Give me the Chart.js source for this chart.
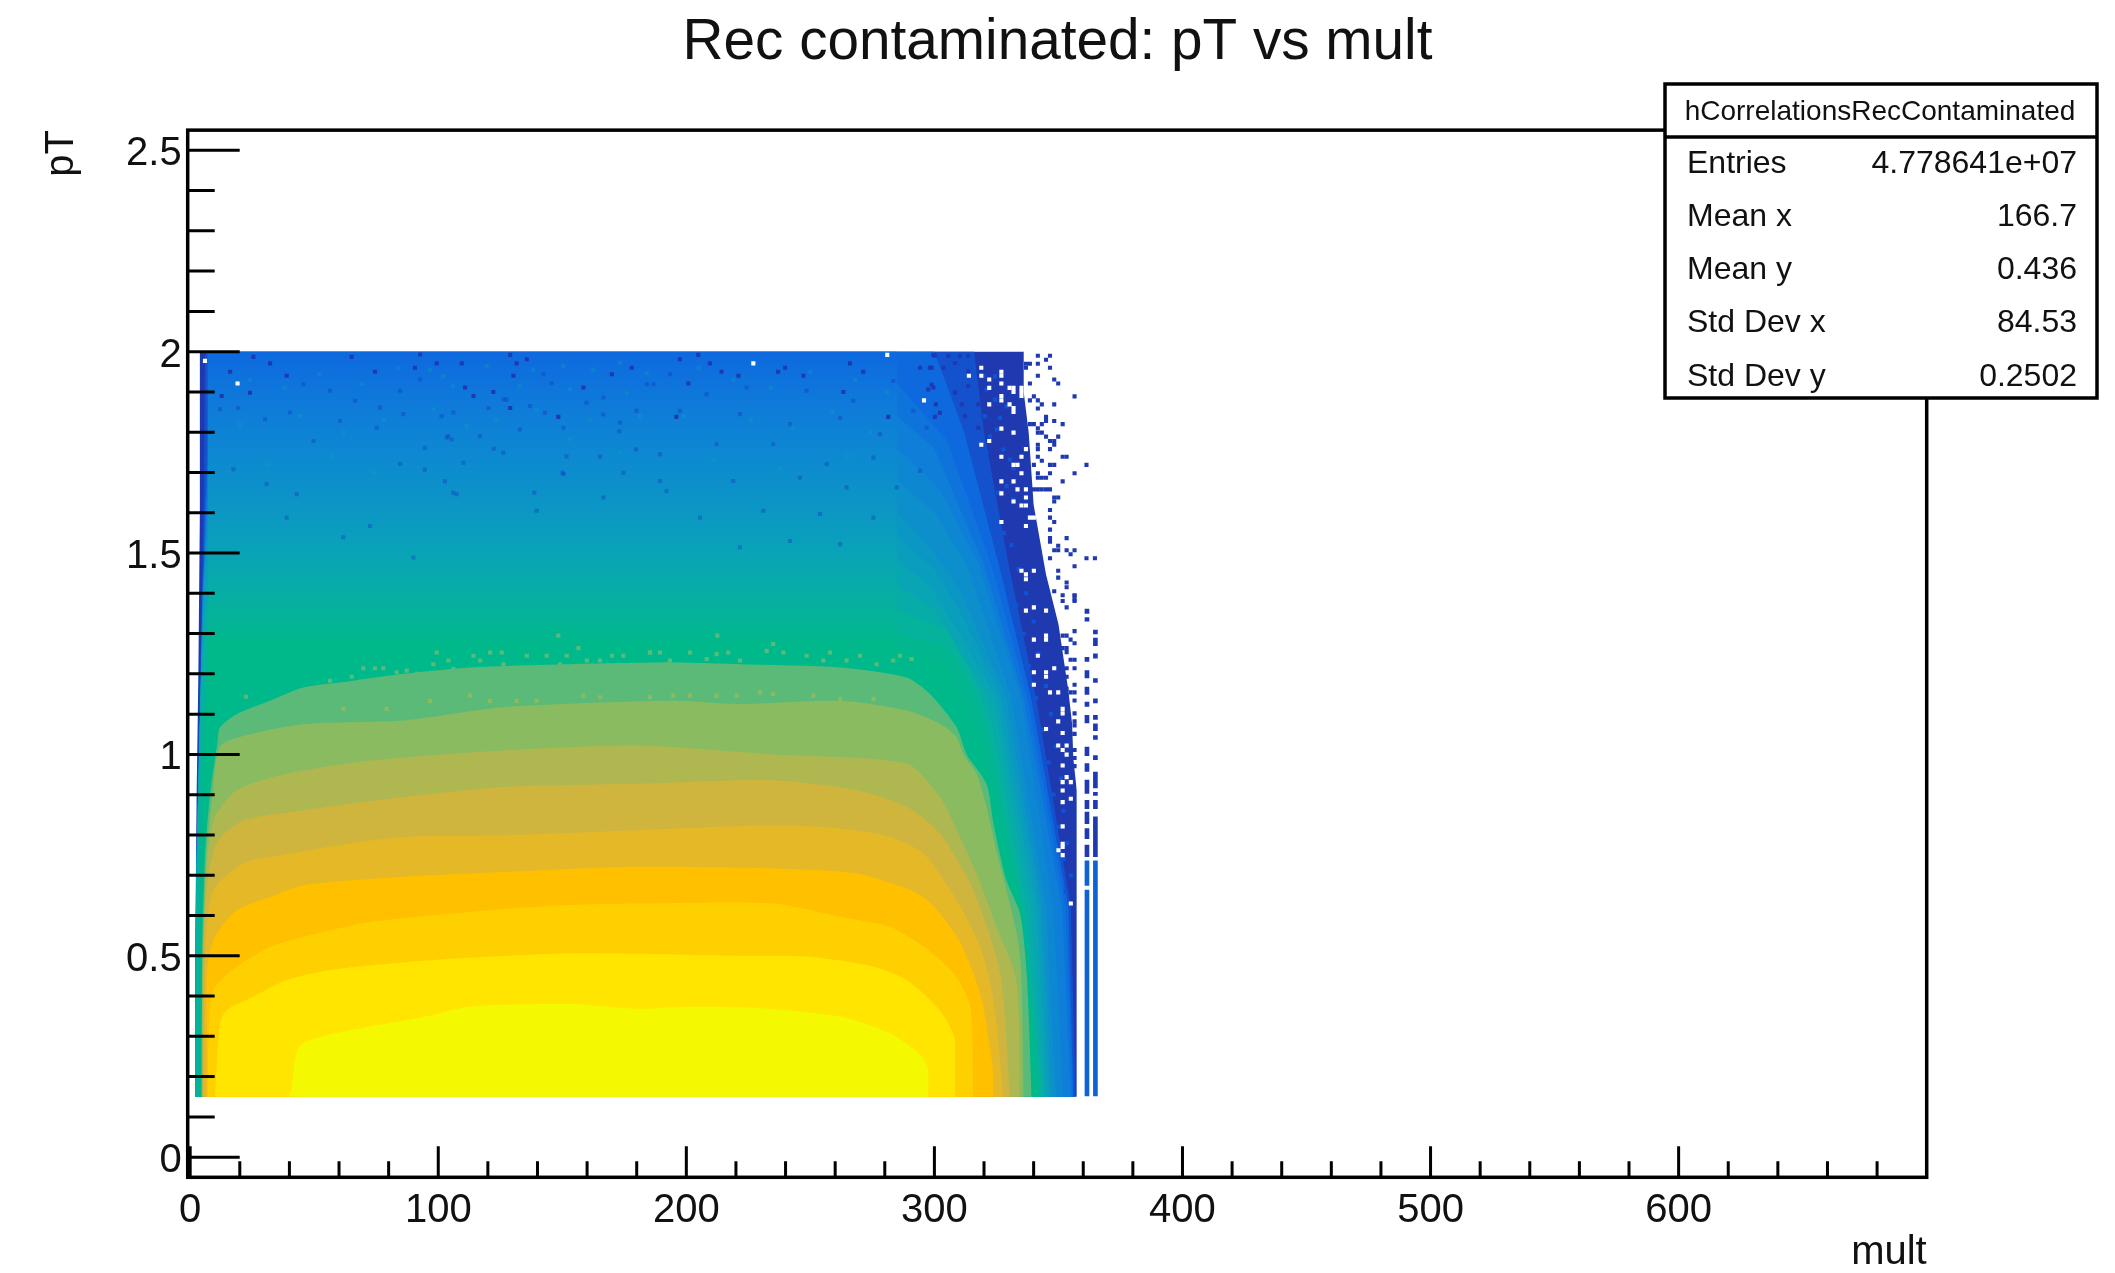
<!DOCTYPE html>
<html>
<head>
<meta charset="utf-8">
<title>Rec contaminated: pT vs mult</title>
<script src="https://cdn.jsdelivr.net/npm/chart.js@4/dist/chart.umd.min.js"></script>
<style>
  html, body { margin: 0; padding: 0; background: #fff; }
  canvas { display: block; }
</style>
</head>
<body>
<canvas id="myChart" width="2115" height="1273"></canvas>
<script>
const xTicks = [0, 20, 40, 60, 80, 100, 120, 140, 160, 180, 200, 220, 240, 260, 280, 300, 320, 340, 360, 380, 400, 420, 440, 460, 480, 500, 520, 540, 560, 580, 600, 620, 640, 660, 680];
const xLabels = ['0', '100', '200', '300', '400', '500', '600'];
const yTicks = [0, 0.1, 0.2, 0.3, 0.4, 0.5, 0.6, 0.7, 0.8, 0.9, 1, 1.1, 1.2, 1.3, 1.4, 1.5, 1.6, 1.7, 1.8, 1.9, 2, 2.1, 2.2, 2.3, 2.4, 2.5];
const yLabels = ['0', '0.5', '1', '1.5', '2', '2.5'];

const statsName = 'hCorrelationsRecContaminated';
const statsLabels = ['Entries', 'Mean x', 'Mean y', 'Std Dev x', 'Std Dev y'];
const statsValues = ['4.778641e+07', '166.7', '0.436', '84.53', '0.2502'];

// contour of each colour level, outermost first
const darkX = [2, 2, 2.6, 3.3, 3.9, 3.9, 336, 336, 338, 340, 345, 350, 354, 355.5, 356, 357.4, 357.4];
const darkY = [0.15, 0.5, 0.9, 1.2, 1.6, 2, 2, 1.9, 1.8, 1.62, 1.447, 1.324, 1.158, 1.076, 0.99, 0.91, 0.15];
const blue0X = [2, 2.2, 3, 4.5, 5.5, 6, 316, 320, 330, 341, 355, 356.9];
const blue0Y = [0.15, 0.55, 0.95, 1.35, 1.65, 2, 2, 1.8, 1.47, 1.14, 0.62, 0.15];
const blue1X = [2, 2.5, 3.5, 5, 7, 7, 300, 312, 326, 339, 354, 356];
const blue1Y = [0.15, 0.6, 1, 1.4, 1.7, 2, 2, 1.8, 1.47, 1.14, 0.62, 0.15];
const blue2X = [2, 3, 4.5, 6, 8, 20, 60, 150, 285, 305, 323, 337.5, 352.8, 355.8];
const blue2Y = [0.15, 0.8, 1.2, 1.6, 1.85, 1.88, 1.91, 1.92, 1.92, 1.78, 1.47, 1.14, 0.62, 0.15];
const blue3X = [2, 3, 4.5, 6, 8, 20, 60, 150, 285, 300, 320, 336, 351.5, 355];
const blue3Y = [0.15, 0.8, 1.2, 1.5, 1.76, 1.8, 1.83, 1.84, 1.84, 1.76, 1.47, 1.14, 0.62, 0.15];
const blue4X = [2, 2.8, 4.2, 5.5, 7.5, 20, 60, 150, 285, 302, 318, 335, 348, 352];
const blue4Y = [0.15, 0.8, 1.15, 1.45, 1.68, 1.72, 1.75, 1.76, 1.76, 1.66, 1.47, 1.14, 0.62, 0.15];
const blue5X = [2, 2.6, 4, 5, 7, 20, 60, 150, 285, 300, 313, 331, 345, 349];
const blue5Y = [0.15, 0.75, 1.1, 1.4, 1.6, 1.64, 1.67, 1.68, 1.68, 1.6, 1.47, 1.14, 0.62, 0.15];
const cyan1X = [2, 2.5, 3.8, 4.8, 6.5, 20, 60, 150, 285, 300, 311, 329, 343.5, 347.5];
const cyan1Y = [0.15, 0.7, 1.05, 1.3, 1.53, 1.56, 1.59, 1.6, 1.6, 1.5, 1.4, 1.14, 0.62, 0.15];
const cyan2X = [2, 2.4, 3.6, 4.6, 6, 20, 60, 150, 285, 300, 310, 327, 342.5, 346.5];
const cyan2Y = [0.15, 0.7, 1, 1.25, 1.47, 1.5, 1.53, 1.54, 1.54, 1.46, 1.36, 1.14, 0.62, 0.15];
const cyan3X = [2, 2.3, 3.4, 4.4, 6, 20, 60, 150, 285, 298, 310, 325, 341, 345.5];
const cyan3Y = [0.15, 0.65, 0.95, 1.2, 1.42, 1.44, 1.47, 1.48, 1.48, 1.42, 1.3, 1.14, 0.62, 0.15];
const cyan4X = [2, 2.2, 3.3, 4.2, 6, 20, 60, 150, 285, 300, 310, 324, 339, 344.5];
const cyan4Y = [0.15, 0.6, 0.9, 1.15, 1.36, 1.38, 1.41, 1.42, 1.42, 1.36, 1.26, 1.12, 0.62, 0.15];
const cyan5X = [2, 2.1, 3.2, 4.2, 6, 20, 60, 150, 285, 305, 315, 323, 337, 343.5];
const cyan5Y = [0.15, 0.55, 0.85, 1.1, 1.3, 1.32, 1.35, 1.36, 1.36, 1.31, 1.2, 1.08, 0.62, 0.15];
const teal1X = [3.8, 3.9, 4.2, 5, 7, 20, 60, 150, 285, 305, 316, 322, 335.5, 342.7];
const teal1Y = [0.15, 0.5, 0.8, 1.05, 1.25, 1.27, 1.29, 1.3, 1.3, 1.27, 1.16, 1.04, 0.62, 0.15];
const teal2X = [4, 4.2, 4.6, 5.5, 8, 20, 60, 150, 285, 305, 318, 335, 341.5];
const teal2Y = [0.15, 0.5, 0.8, 1.05, 1.2, 1.23, 1.26, 1.27, 1.27, 1.22, 1.05, 0.62, 0.15];
const green1X = [4.5, 4.8, 6, 8, 11, 12, 18.7, 32.2, 45.6, 65.8, 85.9, 112.8, 153, 193.5, 221.6, 262, 288.8, 298.2, 309, 313, 321, 323.8, 329, 334.5, 337.2, 339.2];
const green1Y = [0.15, 0.5, 0.75, 0.9, 1.03, 1.067, 1.1, 1.133, 1.166, 1.183, 1.2, 1.216, 1.224, 1.228, 1.224, 1.216, 1.191, 1.15, 1.067, 1, 0.927, 0.828, 0.688, 0.605, 0.457, 0.15];
const green2X = [4.6, 5, 6.5, 9, 12, 21.4, 45.6, 85.9, 126, 193.5, 221.6, 262, 288.8, 302.3, 309, 311.7, 317, 321, 325, 333.2, 335, 336];
const green2Y = [0.15, 0.5, 0.75, 0.9, 1.02, 1.046, 1.075, 1.084, 1.117, 1.133, 1.125, 1.133, 1.109, 1.076, 1.042, 1, 0.952, 0.87, 0.762, 0.556, 0.457, 0.15];
const oliveX = [4.8, 5.2, 7, 10, 18.7, 38.9, 72.5, 126, 180, 235, 288.8, 302.3, 310.3, 317, 325, 333, 334.5];
const oliveY = [0.15, 0.5, 0.75, 0.845, 0.911, 0.952, 0.985, 1.01, 1.022, 1, 0.977, 0.894, 0.795, 0.704, 0.572, 0.44, 0.15];
const tanX = [5, 5.5, 6.6, 10.7, 21.4, 45.6, 85.9, 126, 180, 235, 268.7, 288.8, 302.3, 315.7, 326.5, 330.5];
const tanY = [0.15, 0.5, 0.663, 0.78, 0.836, 0.861, 0.894, 0.919, 0.927, 0.936, 0.911, 0.87, 0.803, 0.663, 0.457, 0.15];
const goldX = [5.5, 6, 9.3, 21.4, 32.2, 59, 85.9, 126, 180, 235, 262, 282, 295.5, 309, 318.4, 323.8, 327.8];
const goldY = [0.15, 0.5, 0.663, 0.729, 0.745, 0.774, 0.795, 0.799, 0.812, 0.824, 0.816, 0.795, 0.754, 0.638, 0.523, 0.39, 0.15];
const amberX = [6.6, 6.6, 10, 18.7, 32.2, 45.6, 85.9, 126.3, 180, 235, 268.7, 295.5, 309, 315.7, 319.7, 323.8, 323.8];
const amberY = [0.15, 0.457, 0.547, 0.613, 0.646, 0.675, 0.696, 0.708, 0.721, 0.717, 0.704, 0.646, 0.547, 0.457, 0.374, 0.209, 0.15];
const orangeX = [7, 7.5, 9.3, 18.7, 32.2, 45.6, 72.5, 112.8, 153, 181, 235, 262, 282, 295.5, 307.6, 314.4, 315.7];
const orangeY = [0.15, 0.3, 0.415, 0.473, 0.522, 0.547, 0.584, 0.609, 0.626, 0.63, 0.63, 0.597, 0.572, 0.523, 0.457, 0.374, 0.15];
const sunX = [10, 12, 14.7, 25.5, 38.9, 56.4, 99.4, 153, 181, 221, 248.5, 275.4, 288.8, 302, 308.3, 308.3];
const sunY = [0.15, 0.33, 0.365, 0.399, 0.44, 0.465, 0.49, 0.506, 0.505, 0.5, 0.498, 0.473, 0.44, 0.366, 0.291, 0.15];
const yellowX = [40, 41, 44, 59, 95, 113, 153, 181, 200, 230, 262, 282, 295, 298, 297.5];
const yellowY = [0.15, 0.176, 0.275, 0.308, 0.349, 0.374, 0.38, 0.368, 0.374, 0.37, 0.349, 0.308, 0.25, 0.209, 0.15];

const outerLevels = [
  [darkX, darkY, '#1f3ab0'], [blue0X, blue0Y, '#1352cc'], [blue1X, blue1Y, '#0e69df'], [blue2X, blue2Y, '#0e74dc'],
  [blue3X, blue3Y, '#0e7ed8'], [blue4X, blue4Y, '#0d87d2'], [blue5X, blue5Y, '#0c8fcb'],
  [cyan1X, cyan1Y, '#0b97c3'], [cyan2X, cyan2Y, '#0a9ebd'], [cyan3X, cyan3Y, '#09a5b4'],
  [cyan4X, cyan4Y, '#07aca8'], [cyan5X, cyan5Y, '#05b29c'], [teal1X, teal1Y, '#02b690'],
  [teal2X, teal2Y, '#00b98a'],
];
const innerLevels = [
  [green1X, green1Y, '#5cba78'], [green2X, green2Y, '#8abb60'],
  [oliveX, oliveY, '#aeb750'], [tanX, tanY, '#cfb53e'], [goldX, goldY, '#e5b828'],
  [amberX, amberY, '#ffc000'], [orangeX, orangeY, '#ffd000'], [sunX, sunY, '#ffe500'],
  [yellowX, yellowY, '#f4f800'],
];

// central part of the blue to green fade, colour against pT
const fadeX = [7, 7, 285, 285];
const fadeY = [0.15, 2, 2, 0.15];
const fadeStops = [1.27, 1.3, 1.36, 1.42, 1.48, 1.54, 1.6, 1.68, 1.76, 1.84, 1.92, 2];
const fadeColors = ['#00b98a', '#02b690', '#05b29c', '#07aca8', '#09a5b4', '#0a9ebd', '#0b97c3', '#0c8fcb', '#0d87d2', '#0e7ed8', '#0e74dc', '#0e69df'];

// isolated bins on the top and right of the filled area
const darkBinX = [25.5, 32.2, 65.1, 92.7, 129, 135.7, 131.6, 99.4, 90.6, 109.5, 178, 170, 158.5, 122.2, 110.8, 114.2, 24.1, 12.7, 16.1, 38.9, 74.5, 130.3, 148.4, 129, 197.4, 204.8, 209.5, 214.2, 221, 237, 239.8, 247.2, 266, 200.8, 263.3, 271.3, 299.6, 298.2, 299.6, 308.3, 196, 281.4, 300.2,
  298.9, 297.5, 308.3, 300.6, 311, 302.2, 294.2, 298.9, 303.6, 308.3, 313.6, 305.6, 300.2, 310.3, 313.6, 313.6, 317.7, 317.7, 312.3, 319.7,
  341.7, 346.6, 345, 341.7, 346.6, 336.9, 338.5, 336.9, 341.7, 348.3, 349.9, 338.5, 356.5, 340.1, 341.7, 338.5, 343.3, 348.3, 341.7, 345, 345, 348.3, 351.7, 338.5, 340.1, 343.3, 341.7, 341.7, 343.3, 345, 349.9, 346.6, 348.3, 341.7, 341.7, 348.3, 346.6, 351.7, 353.3, 341.7, 343.3, 340.1, 346.6, 348.3, 361.3, 356.5, 346.6, 341.7, 341.7, 343.3, 345, 351.7, 340.1, 341.7, 343.3, 345, 346.6, 348.3, 349.9, 348.3, 346.6, 346.6, 348.3, 346.6, 353.3, 346.6, 346.6, 349.9, 349.9, 348.3, 353.3, 354.9, 356.5, 361.3, 364.7, 356.5, 346.6, 349.9, 349.9, 353.3, 353.3, 356.5, 356.5, 351.7, 348.3, 345,
  351.7, 356.5, 356.5, 353.3, 356.5, 351.7, 353.3, 354.9, 356.5, 351.7, 353.3, 353.3, 354.9, 356.5, 353.3, 356.5, 351.7, 353.3, 351.7, 356.5, 353.3, 354.9, 356.5, 356.5, 353.3, 353.3, 353.3, 353.3, 356.5, 356.5, 356.5, 354.9, 356.5, 353.3, 356.5, 354.9, 356.5, 354.9, 356.5];
const darkBinY = [1.987, 1.971, 1.987, 1.993, 1.992, 1.981, 1.971, 1.971, 1.96, 1.971, 1.96, 1.944, 1.911, 1.9, 1.911, 1.89, 1.898, 1.89, 1.95, 1.94, 1.95, 1.94, 1.838, 1.86, 1.981, 1.992, 1.971, 1.95, 1.94, 1.95, 1.96, 1.94, 1.971, 1.921, 1.9, 1.95, 1.911, 1.96, 1.992, 1.898, 1.838, 1.838, 1.838,
  1.918, 1.906, 1.899, 1.869, 1.869, 1.848, 1.96, 1.96, 1.96, 1.972, 1.951, 1.99, 1.99, 1.99, 1.99, 1.914, 1.869, 1.811, 1.84, 1.889,
  1.99, 1.99, 1.98, 1.97, 1.96, 1.97, 1.97, 1.96, 1.94, 1.931, 1.921, 1.921, 1.889, 1.889, 1.879, 1.879, 1.869, 1.869, 1.859, 1.838, 1.828, 1.828, 1.82, 1.82, 1.82, 1.82, 1.81, 1.799, 1.799, 1.789, 1.789, 1.778, 1.778, 1.769, 1.758, 1.769, 1.758, 1.739, 1.739, 1.739, 1.729, 1.719, 1.719, 1.719, 1.719, 1.698, 1.698, 1.698, 1.687, 1.687, 1.687, 1.678, 1.658, 1.658, 1.658, 1.658, 1.658, 1.638, 1.638, 1.628, 1.607, 1.588, 1.577, 1.558, 1.537, 1.537, 1.528, 1.518, 1.507, 1.507, 1.507, 1.497, 1.507, 1.487, 1.487, 1.467, 1.487, 1.456, 1.439, 1.427, 1.415, 1.394, 1.381, 1.381, 1.405, 1.415,
  1.395, 1.395, 1.385, 1.365, 1.306, 1.295, 1.295, 1.285, 1.276, 1.264, 1.264, 1.254, 1.235, 1.235, 1.214, 1.214, 1.193, 1.193, 1.183, 1.173, 1.163, 1.154, 1.154, 1.134, 1.144, 1.124, 1.113, 1.092, 1.102, 1.082, 1.072, 1.051, 1.051, 1.043, 1.011, 0.991, 0.991, 0.971, 0.971];
const emptyBinX = [5.97, 19.1, 227, 281, 295.8, 313.9, 318.9, 318.9, 322.1, 322.1, 322.1, 318.9, 322.1, 327, 327, 327, 327, 327, 330.3, 331.9, 331.9, 330.3, 331.9, 331.9, 335.1, 335.1, 335.1, 327, 331.9, 336.9, 327, 335.1, 331.9, 333.5, 335.1, 327, 331.9, 333.5, 336.9, 327, 331.9, 336.9, 335.1, 336.9, 327, 336.9, 338.5, 340.1, 335.1, 336.9, 340.1, 336.9,
  336.9, 340.1, 345, 340.1, 345, 345, 341.7, 340.1, 345, 345, 340.1, 348.3, 346.6, 349.9, 351.7, 351.7, 349.9, 345, 351.7, 349.9, 353.3, 351.7, 353.3, 351.7, 353.3, 351.7, 355, 351.7, 351.7, 355, 351.7, 351.7, 351.7, 351.7, 350, 355, 355];
const emptyBinY = [1.977, 1.921, 1.971, 1.992, 1.879, 1.94, 1.96, 1.94, 1.931, 1.91, 1.869, 1.769, 1.778, 1.95, 1.94, 1.921, 1.89, 1.879, 1.91, 1.91, 1.9, 1.869, 1.86, 1.85, 1.91, 1.9, 1.89, 1.809, 1.799, 1.758, 1.739, 1.739, 1.719, 1.719, 1.698, 1.678, 1.678, 1.658, 1.658, 1.648, 1.628, 1.638, 1.618, 1.618, 1.577, 1.567, 1.588, 1.588, 1.456, 1.447, 1.456, 1.435,
  1.357, 1.365, 1.357, 1.285, 1.295, 1.285, 1.245, 1.204, 1.204, 1.193, 1.173, 1.214, 1.154, 1.154, 1.113, 1.102, 1.082, 1.063, 1.053, 1.022, 1.022, 1.011, 0.9995, 0.9725, 0.9436, 0.9312, 0.9312, 0.9105, 0.8816, 0.8898, 0.8212, 0.7782, 0.77, 0.75, 0.762, 0.63];

// brighter blue bins inside the dark strip on the right
const stripBinX = [319.7, 324.4, 321, 329.1, 325.1, 327.8, 330.4, 321, 325.7, 329.1, 331.8, 322.4, 326.4, 320.4, 324.4, 331.8, 328, 331, 326, 334, 330, 337, 333, 340, 336, 342, 338, 345, 341, 347, 344, 349, 346, 351, 348, 352, 350, 353.5, 352, 355, 353];
const stripBinY = [1.939, 1.939, 1.906, 1.864, 1.807, 1.757, 1.732, 1.749, 1.65, 1.666, 1.633, 1.79, 1.836, 1.84, 1.881, 1.711, 1.55, 1.52, 1.5, 1.46, 1.44, 1.4, 1.37, 1.33, 1.3, 1.25, 1.22, 1.17, 1.14, 1.1, 1.06, 1.02, 0.98, 0.94, 0.9, 0.86, 0.82, 0.78, 0.74, 0.7, 0.66];

// darker bins in the blue part
const grainX = [45.6, 56.4, 66.5, 76.5, 85.9, 106.1, 92.7, 84.6, 126.3, 137, 166.6, 184.1, 142.4, 40.2, 19.4, 12, 30.2, 49.7, 75.2, 103.4, 150.5, 173.3, 180, 60.4, 17.4, 30.8, 43, 107.4, 139.7, 166.6, 189.4, 150.5, 84.6, 38.9, 61.7, 72.5, 90,
  186.7, 193.4, 208.2, 224.3, 248.5, 267.3, 283.4, 291.5, 197.4, 221.6, 241.8, 262, 278, 296.9, 189.4, 212.2, 235, 256.6, 275.4, 294.2, 192, 218.9, 245.8, 264.6, 284.8, 205.5, 231, 253.9, 275.4, 241.8, 262, 221.6,
  150.1, 174.6, 138.7, 94.6, 106, 102.7, 179.7, 173, 166.5, 159.8, 145.7, 127.5, 120.2, 101.3, 104, 105.4, 94.6, 122.4, 143, 151.7, 165.2, 132.9, 116.8, 110.1, 126.2];
const grainY = [1.919, 1.903, 1.878, 1.861, 1.845, 1.849, 1.931, 1.903, 1.882, 1.865, 1.886, 1.919, 1.944, 1.849, 1.86, 1.857, 1.832, 1.778, 1.811, 1.787, 1.811, 1.824, 1.853, 1.828, 1.708, 1.671, 1.646, 1.646, 1.605, 1.638, 1.679, 1.696, 1.721, 1.588, 1.539, 1.567, 1.489,
  1.919, 1.944, 1.894, 1.911, 1.903, 1.878, 1.927, 1.853, 1.853, 1.845, 1.82, 1.836, 1.795, 1.811, 1.745, 1.77, 1.77, 1.721, 1.737, 1.704, 1.654, 1.679, 1.687, 1.663, 1.663, 1.588, 1.605, 1.597, 1.588, 1.53, 1.522, 1.514,
  1.699, 1.699, 1.65, 1.707, 1.65, 1.678, 1.757, 1.802, 1.844, 1.873, 1.922, 1.881, 1.86, 1.84, 1.79, 1.782, 1.761, 1.759, 1.848, 1.74, 1.74, 1.807, 1.79, 1.724, 1.749];

// lighter bins in the blue part
const paleX = [96.6, 102, 119.5, 138.3, 150.4, 162.5, 173.2, 184, 106, 132.9, 153.1, 175.9, 98, 123.5, 139.6, 161.1, 181.3, 111.4, 153.1, 173.2,
  24, 38, 52, 69, 84, 20, 44, 62, 78, 31, 57, 74, 205, 219, 234, 250, 268, 281, 199, 226, 243, 259, 274, 211, 238, 265];
const paleY = [1.955, 1.939, 1.964, 1.955, 1.964, 1.955, 1.972, 1.947, 1.914, 1.914, 1.906, 1.898, 1.856, 1.831, 1.856, 1.831, 1.84, 1.815, 1.782, 1.749,
  1.93, 1.91, 1.945, 1.92, 1.96, 1.82, 1.84, 1.8, 1.83, 1.72, 1.74, 1.7, 1.96, 1.93, 1.91, 1.95, 1.93, 1.9, 1.84, 1.83, 1.81, 1.85, 1.8, 1.73, 1.71, 1.74];

// green bins above the green band edge
const crumb1X = [99.4, 104.1, 114.2, 120.9, 125.6, 135.7, 143.7, 148.4, 156.5, 151.8, 159.9, 170, 174.6, 185.4, 189.4, 192.1, 69.8, 74.5, 77.9, 56.4, 65.1, 22.5, 83.2, 87.3, 95.4, 91.3, 98, 106.1, 116.9, 126.3, 139.7, 149.1, 165.2,
  212.5, 235, 232.4, 201.5, 185.3, 216.9, 212.2, 239.1, 248.5, 257.9, 270, 286.1, 290.8, 283.4, 276.7, 255.2, 264.6, 193.4, 208.2, 221.6];
const crumb1Y = [1.253, 1.233, 1.245, 1.253, 1.253, 1.245, 1.245, 1.295, 1.264, 1.245, 1.233, 1.245, 1.245, 1.253, 1.253, 1.224, 1.214, 1.214, 1.214, 1.183, 1.193, 1.143, 1.204, 1.208, 1.183, 1.2, 1.224, 1.212, 1.233, 1.224, 1.216, 1.224, 1.233,
  1.295, 1.274, 1.257, 1.253, 1.253, 1.253, 1.249, 1.253, 1.245, 1.253, 1.245, 1.245, 1.237, 1.233, 1.224, 1.233, 1.233, 1.233, 1.237, 1.233];
const crumb2X = [185.3, 194.7, 201.5, 212.2, 220.3, 229.7, 235, 251.2, 262, 275.4, 112.8, 120.9, 131.6, 139.7, 158.5, 165.2, 96.7, 79.2, 61.7];
const crumb2Y = [1.142, 1.146, 1.146, 1.146, 1.146, 1.154, 1.15, 1.146, 1.138, 1.138, 1.146, 1.133, 1.133, 1.133, 1.146, 1.142, 1.133, 1.113, 1.113];

// the two narrow columns right of the main block, as [low, high] runs
const col1X = 361.5;
const col1Low = [0.152, 0.675, 0.746, 0.791, 0.828, 0.865, 0.903, 0.958, 0.997, 1.078, 1.119, 1.149, 1.19, 1.231, 1.331, 1.35];
const col1High = [0.663, 0.736, 0.775, 0.816, 0.857, 0.886, 0.936, 0.977, 1.018, 1.097, 1.13, 1.167, 1.208, 1.241, 1.34, 1.361];
const col2X = 364.9;
const col2Low = [0.152, 0.746, 0.865, 0.898, 0.917, 0.987, 1.037, 1.059, 1.087, 1.128, 1.179, 1.239, 1.27, 1.299];
const col2High = [0.736, 0.845, 0.886, 0.906, 0.956, 0.997, 1.047, 1.076, 1.097, 1.138, 1.188, 1.25, 1.289, 1.309];

const datasets = [];
let levelOrder = 100;

const addLevel = (xs, ys, color, tension) => {
  datasets.push({
    type: 'scatter',
    showLine: true,
    data: xs.map((x, k) => ({ x: x, y: ys[k] })),
    backgroundColor: color,
    borderColor: 'transparent',
    borderWidth: 0,
    pointRadius: 0,
    tension: tension,
    fill: { value: 0.15 },
    order: levelOrder--,
  });
};

const fadeFill = (context) => {
  const { chart } = context;
  const yScale = chart.scales.y;
  if (!chart.chartArea || !yScale) return fadeColors[0];
  const top = yScale.getPixelForValue(2);
  const bottom = yScale.getPixelForValue(fadeStops[0]);
  const gradient = chart.ctx.createLinearGradient(0, bottom, 0, top);
  fadeStops.forEach((stop, i) => {
    gradient.addColorStop((stop - fadeStops[0]) / (2 - fadeStops[0]), fadeColors[i]);
  });
  return gradient;
};

outerLevels.forEach(([xs, ys, color]) => addLevel(xs, ys, color, 0));
addLevel(fadeX, fadeY, fadeFill, 0);
innerLevels.forEach(([xs, ys, color]) => addLevel(xs, ys, color, 0.25));

const addBars = (x, lows, highs) => {
  datasets.push({
    type: 'bar',
    data: lows.map((low, k) => ({ x: x, y: [low, highs[k]] })),
    backgroundColor: lows.map((low) => (low < 0.7 ? '#0d62d8' : '#1f3ab0')),
    barThickness: 4,
    grouped: false,
    borderWidth: 0,
    order: 5,
  });
};
addBars(col1X, col1Low, col1High);
addBars(col2X, col2Low, col2High);

const addBins = (xs, ys, color, order) => {
  datasets.push({
    type: 'scatter',
    data: xs.map((x, k) => ({ x: x, y: ys[k] })),
    backgroundColor: color,
    pointStyle: 'rect',
    pointRadius: 2.9,
    pointBorderWidth: 0,
    showLine: false,
    order: order,
  });
};
addBins(grainX, grainY, 'rgba(20, 50, 190, 0.35)', 7);
addBins(paleX, paleY, 'rgba(10, 170, 180, 0.3)', 7);
addBins(crumb1X, crumb1Y, '#5cba78', 8);
addBins(crumb2X, crumb2Y, '#8abb60', 6);
addBins(stripBinX, stripBinY, '#0e55d5', 6);
addBins(darkBinX, darkBinY, '#1f3ab0', 4);
addBins(emptyBinX, emptyBinY, '#ffffff', 3);

const findLabel = (value, labels) => {
  const label = labels.find((l) => Number(l) === value);
  return label === undefined ? '' : label;
};

// ROOT style frame and inward tick marks
const rootFrame = {
  id: 'rootFrame',
  afterDatasetsDraw(chart) {
    const { ctx, chartArea, scales } = chart;
    ctx.save();
    ctx.strokeStyle = '#000';
    ctx.lineWidth = 3.5;
    ctx.strokeRect(chartArea.left, chartArea.top, chartArea.width, chartArea.height);
    ctx.lineWidth = 3;
    ctx.beginPath();
    for (const tick of xTicks) {
      const px = scales.x.getPixelForValue(tick);
      const len = findLabel(tick, xLabels) ? 31 : 16;
      ctx.moveTo(px, chartArea.bottom);
      ctx.lineTo(px, chartArea.bottom - len);
    }
    for (const tick of yTicks) {
      const py = scales.y.getPixelForValue(tick);
      const len = findLabel(tick, yLabels) ? 52 : 27;
      ctx.moveTo(chartArea.left, py);
      ctx.lineTo(chartArea.left + len, py);
    }
    ctx.stroke();
    ctx.restore();
  },
};

// statistics box, overhangs the frame
const statsBox = {
  id: 'statsBox',
  afterDraw(chart) {
    const { ctx } = chart;
    ctx.save();
    ctx.fillStyle = '#fff';
    ctx.strokeStyle = '#000';
    ctx.lineWidth = 3.5;
    ctx.fillRect(1665, 84, 432, 314);
    ctx.strokeRect(1665, 84, 432, 314);
    ctx.beginPath();
    ctx.moveTo(1665, 137);
    ctx.lineTo(2097, 137);
    ctx.stroke();
    ctx.fillStyle = '#111';
    ctx.textBaseline = 'middle';
    ctx.font = '28px "Liberation Sans"';
    ctx.textAlign = 'center';
    ctx.fillText(statsName, 1880, 112);
    ctx.font = '32px "Liberation Sans"';
    statsLabels.forEach((label, i) => {
      const y = 164 + i * 53.2;
      ctx.textAlign = 'left';
      ctx.fillText(label, 1687, y);
      ctx.textAlign = 'right';
      ctx.fillText(statsValues[i], 2077, y);
    });
    ctx.restore();
  },
};

const tickFont = { family: '"Liberation Sans"', size: 40 };

new Chart(document.getElementById('myChart'), {
  type: 'scatter',
  data: { datasets: datasets },
  plugins: [rootFrame, statsBox],
  options: {
    responsive: false,
    animation: false,
    devicePixelRatio: 1,
    plugins: {
      legend: { display: false },
      tooltip: { enabled: false },
      title: {
        display: true,
        text: 'Rec contaminated: pT vs mult',
        color: '#111',
        font: { family: '"Liberation Sans"', size: 56.7, weight: 'normal', lineHeight: 1.2 },
        padding: { top: 9, bottom: 53.1 },
      },
    },
    scales: {
      x: {
        type: 'linear',
        offset: false,
        min: -1,
        max: 700,
        grid: { display: false, drawTicks: false },
        border: { display: false },
        afterBuildTicks: (scale) => { scale.ticks = xTicks.map((value) => ({ value })); },
        afterFit: (scale) => { scale.height = 95.7; },
        ticks: {
          autoSkip: false,
          maxRotation: 0,
          padding: 10,
          color: '#111',
          font: tickFont,
          callback: (value) => findLabel(value, xLabels),
        },
        title: {
          display: true,
          text: 'mult',
          align: 'end',
          color: '#111',
          font: { family: '"Liberation Sans"', size: 40, lineHeight: 1 },
          padding: { top: 0, bottom: 0 },
        },
      },
      y: {
        type: 'linear',
        min: -0.05,
        max: 2.55,
        grid: { display: false, drawTicks: false },
        border: { display: false },
        afterBuildTicks: (scale) => { scale.ticks = yTicks.map((value) => ({ value })); },
        afterFit: (scale) => { scale.width = 187.7; },
        ticks: {
          autoSkip: false,
          padding: 6,
          labelOffset: 4,
          color: '#111',
          font: tickFont,
          callback: (value) => findLabel(value, yLabels),
        },
        title: {
          display: true,
          text: 'pT',
          align: 'end',
          color: '#111',
          font: { family: '"Liberation Sans"', size: 40, lineHeight: 1 },
          padding: { top: 42, bottom: 0 },
        },
      },
      // empty side axis, keeps the margin right of the frame
      rightMargin: {
        type: 'linear',
        position: 'right',
        grid: { display: false, drawTicks: false },
        border: { display: false },
        ticks: { display: false },
        afterFit: (scale) => { scale.width = 188.3; },
      },
    },
  },
});
</script>
</body>
</html>
